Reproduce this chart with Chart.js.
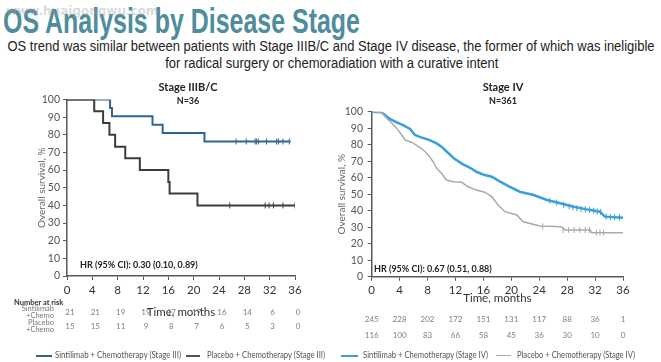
<!DOCTYPE html>
<html>
<head>
<meta charset="utf-8">
<script src="https://cdn.jsdelivr.net/npm/chart.js@4"></script>
<style>
body { margin: 0; width: 661px; height: 362px; background: #fff; position: relative; overflow: hidden; font-family: Lato, sans-serif; }
.abs { position: absolute; white-space: nowrap; }
#title { left: 3px; top: 1px; font: bold 35px "Liberation Sans Narrow", "Liberation Sans", sans-serif; color: #4f8d9c; transform-origin: 0 0; }
#wm { left: 6px; top: 4px; font: bold 12px "DejaVu Sans", sans-serif; color: rgba(160,160,160,0.4); }
.sub { font: 14px "Liberation Sans", sans-serif; color: #222; transform-origin: 50% 50%; }
.stage { font-weight: bold; font-size: 11px; color: #222; transform: translateX(-50%); }
.n { font-weight: bold; font-size: 9px; color: #222; transform: translateX(-50%); }
.hr { font-weight: bold; font-size: 9px; color: #222; }
.rowlab { font-size: 7.5px; color: #777; text-align: right; line-height: 7px; }
.leg { font-size: 9px; color: #555; top: 349px; transform-origin: 0 50%; }
.sw { position: absolute; height: 2px; top: 355px; }
canvas { position: absolute; }
</style>
</head>
<body>
<div id="title" class="abs">OS Analysis by Disease Stage</div>
<div id="wm" class="abs">www.huaigongwu.com</div>
<div id="sub1" class="abs sub" style="top:38px">OS trend was similar between patients with Stage IIIB/C and Stage IV disease, the former of which was ineligible</div>
<div id="sub2" class="abs sub" style="top:55px">for radical surgery or chemoradiation with a curative intent</div>

<canvas id="c3" width="320" height="260" style="left:0;top:80px"></canvas>
<canvas id="c4" width="331" height="260" style="left:330px;top:80px"></canvas>

<div class="abs stage" style="left:188px;top:80px">Stage IIIB/C</div>
<div class="abs n" style="left:188px;top:95px">N=36</div>
<div class="abs stage" style="left:503px;top:80px">Stage IV</div>
<div class="abs n" style="left:503px;top:95px">N=361</div>
<div class="abs hr" style="left:80px;top:259px">HR (95% CI): 0.30 (0.10, 0.89)</div>
<div class="abs hr" style="left:374px;top:263px">HR (95% CI): 0.67 (0.51, 0.88)</div>

<div class="abs" style="left:14px;top:298px;font-size:7.5px;font-weight:bold;color:#333">Number at risk</div>
<div class="abs rowlab" style="right:607px;top:305px">Sintilimab<br>+Chemo</div>
<div class="abs rowlab" style="right:607px;top:319px">Placebo<br>+Chemo</div>

<div class="sw" style="left:36px;width:16px;background:#2f6592"></div>
<div class="abs leg" style="left:55px" data-w="126">Sintilimab + Chemotherapy (Stage III)</div>
<div class="sw" style="left:186px;width:14px;background:#555"></div>
<div class="abs leg" style="left:207px" data-w="118">Placebo + Chemotherapy (Stage III)</div>
<div class="sw" style="left:341px;width:17px;background:#3a9fd8"></div>
<div class="abs leg" style="left:363px" data-w="125">Sintilimab + Chemotherapy (Stage IV)</div>
<div class="sw" style="left:496px;width:15px;height:1px;background:#aaa"></div>
<div class="abs leg" style="left:517px" data-w="118">Placebo + Chemotherapy (Stage IV)</div>

<script>
// x axis ticks / at-risk time points
const riskTimes = [0, 4, 8, 12, 16, 20, 24, 28, 32, 36];

// Stage IIIB/C
const sinIIITime = [0, 6.8, 7.1, 13.5, 15.1, 21.7, 35.3];
const sinIIISurv = [100, 95.2, 90.5, 85.7, 81.0, 76.2, 76.2];
const sinIIICensor = [26.7, 28.3, 29.7, 29.9, 30.2, 31.5, 33.1, 33.4, 34.1, 35.1];
const plaIIITime = [0, 4.3, 5.7, 6.7, 7.6, 9.2, 11.5, 16.0, 16.2, 20.6, 36];
const plaIIISurv = [100, 93.3, 86.7, 80.0, 73.3, 66.7, 60.0, 53.3, 46.7, 40.0, 40.0];
const plaIIICensor = [25.7, 31.3, 31.9, 32.6, 34.1, 36];
const sinIIIRisk = [21, 21, 19, 19, 17, 17, 16, 14, 6, 0];
const plaIIIRisk = [15, 15, 11, 9, 8, 7, 6, 5, 3, 0];

// Stage IV
const sinIVTime = [0, 1.4, 1.9, 2.6, 3.6, 4.5, 5.5, 6.2, 6.9, 8.3, 9.3, 10, 11, 11.9, 13.1, 14.1, 15, 16.2, 17.2, 18.4, 19.8, 21.2, 23.2, 25.1, 27, 28.9, 30.8, 32.7, 33.4, 36];
const sinIVSurv = [100, 99.6, 98, 95.6, 93.6, 91.9, 89.5, 85.9, 84.7, 82.8, 80.8, 78.8, 74.8, 71.3, 68.1, 66, 63.6, 61.6, 60.6, 57.6, 54.5, 51.5, 49.5, 46.5, 44.5, 42.4, 40.8, 39.4, 36.4, 35.8];
const sinIVCensorTime = [25.5, 26.5, 27.5, 28.3, 28.8, 29.4, 30, 30.6, 31.2, 31.8, 32.3, 32.8, 33.6, 34.2, 34.8, 35.5];
const sinIVCensorSurv = [46, 45, 43.5, 42.6, 42, 41.5, 41, 40.8, 40.5, 40, 39.6, 39.3, 36.4, 36, 36, 35.9];
const plaIVTime = [0, 1.4, 2.15, 2.9, 3.6, 4.3, 4.8, 5.7, 6.7, 7.4, 8.1, 8.8, 9.3, 10, 10.7, 11.7, 12.9, 13.8, 15, 16.2, 17.2, 18.1, 19.1, 20.8, 21.7, 24.1, 27.2, 27.7, 31.3, 31.5, 36];
const plaIVSurv = [100, 99.6, 96, 93, 89.9, 85.9, 82.8, 81.5, 78.8, 76.8, 73.8, 69.7, 65.7, 62.7, 58.6, 57.6, 57.2, 54.5, 52.5, 51.2, 48.5, 43.5, 39.4, 37.4, 33.3, 30.7, 30.3, 28.3, 28.3, 26.7, 26.7];
const plaIVCensorTime = [24.5, 27.4, 28.2, 29, 29.8, 30.6, 31.2, 32.2, 32.7, 33.2];
const plaIVCensorSurv = [30.5, 28.3, 28.3, 28.3, 28.3, 28.3, 28.3, 26.7, 26.7, 26.7];
const sinIVRisk = [245, 228, 202, 172, 151, 131, 117, 88, 36, 1];
const plaIVRisk = [116, 100, 83, 66, 58, 45, 36, 30, 10, 0];

// the slide text is condensed; squeeze our fonts to the same widths
const t = document.getElementById("title");
t.style.transform = "scaleX(" + (357 / t.getBoundingClientRect().width) + ")";
const s1 = document.getElementById("sub1"), s2 = document.getElementById("sub2");
const k = 647 / s1.getBoundingClientRect().width;
[s1, s2].forEach(el => {
    const w = el.getBoundingClientRect().width;
    el.style.left = (331.5 - w / 2) + "px";
    el.style.transform = "scaleX(" + k + ")";
});
document.querySelectorAll(".leg").forEach(el => {
    el.style.transform = "scaleX(" + (el.dataset.w / el.getBoundingClientRect().width) + ")";
});

Chart.defaults.font.family = "Lato";
Chart.defaults.animation = false;

const pts = (xs, ys) => xs.map((x, i) => ({ x: x, y: ys[i] }));

// numbers at risk under the x axis
const riskPlugin = {
    id: "risk",
    afterDraw(chart, args, opts) {
        const ctx = chart.ctx, sx = chart.scales.x;
        ctx.save();
        ctx.font = "8px Lato";
        ctx.fillStyle = "#808080";
        ctx.textAlign = "center";
        ctx.textBaseline = "middle";
        opts.rows.forEach(r => r.values.forEach((v, i) => {
            ctx.fillText(v, sx.getPixelForValue(riskTimes[i]) + opts.dx, r.y);
        }));
        ctx.restore();
    }
};

function line(data, color, width, stepped) {
    return { data: data, borderColor: color, borderWidth: width, stepped: stepped, pointRadius: 0, fill: false };
}
function censor(data, color) {
    return { data: data, showLine: false, pointStyle: "line", rotation: 90, pointRadius: 3, borderColor: color, borderWidth: 1 };
}

function axes(yWidth, xHeight, yTitlePad, yTickPad, xTitlePad) {
    const axisCol = "#595959";
    return {
        x: {
            type: "linear", min: 0, max: 36,
            afterBuildTicks: s => { s.ticks = riskTimes.map(v => ({ value: v })); },
            afterFit: s => { s.height = xHeight; },
            border: { color: axisCol, width: 1.5 },
            grid: { drawOnChartArea: false, tickLength: 4, color: axisCol },
            ticks: { color: "#333", font: { size: 11.5 }, padding: 3 },
            title: { display: true, text: "Time, months", color: "#333", font: { size: 11.5 }, padding: { top: 0, bottom: xTitlePad } }
        },
        y: {
            min: 0, max: 100,
            afterFit: s => { s.width = yWidth; },
            border: { color: axisCol, width: 1.5 },
            grid: { drawOnChartArea: false, tickLength: 4, color: axisCol },
            ticks: { stepSize: 10, color: "#555", font: { size: 10.5 }, padding: yTickPad },
            title: { display: true, text: "Overall survival, %", color: "#666", font: { size: 10 }, padding: { top: yTitlePad, bottom: 0 } }
        }
    };
}

new Chart(document.getElementById("c3"), {
    type: "line",
    data: {
        datasets: [
            line(pts(plaIIITime, plaIIISurv), "#3c3c3c", 2, true),
            line(pts(sinIIITime, sinIIISurv), "#2f6592", 2, true),
            censor(plaIIICensor.map(x => ({ x: x, y: 40 })), "#3c3c3c"),
            censor(sinIIICensor.map(x => ({ x: x, y: 76.2 })), "#2f6592")
        ]
    },
    options: {
        responsive: false,
        layout: { padding: { top: 19.5, right: 25, left: 0, bottom: 0 } },
        scales: axes(67, 64, 36, 3, 21),
        plugins: {
            legend: { display: false },
            tooltip: { enabled: false },
            risk: { dx: 3, rows: [{ y: 232, values: sinIIIRisk }, { y: 246, values: plaIIIRisk }] }
        }
    },
    plugins: [riskPlugin]
});

new Chart(document.getElementById("c4"), {
    type: "line",
    data: {
        datasets: [
            line(pts(plaIVTime, plaIVSurv), "#aaaaaa", 1.5, false),
            line(pts(sinIVTime, sinIVSurv), "#3a9fd8", 2.5, false),
            censor(pts(plaIVCensorTime, plaIVCensorSurv), "#aaaaaa"),
            censor(pts(sinIVCensorTime, sinIVCensorSurv), "#3a9fd8")
        ]
    },
    options: {
        responsive: false,
        layout: { padding: { top: 31.7, right: 38, left: 0, bottom: 0 } },
        scales: axes(41.7, 63.3, 6, 4.7, 35),
        plugins: {
            legend: { display: false },
            tooltip: { enabled: false },
            risk: { dx: 0, rows: [{ y: 239, values: sinIVRisk }, { y: 255, values: plaIVRisk }] }
        }
    },
    plugins: [riskPlugin]
});
</script>
</body>
</html>
